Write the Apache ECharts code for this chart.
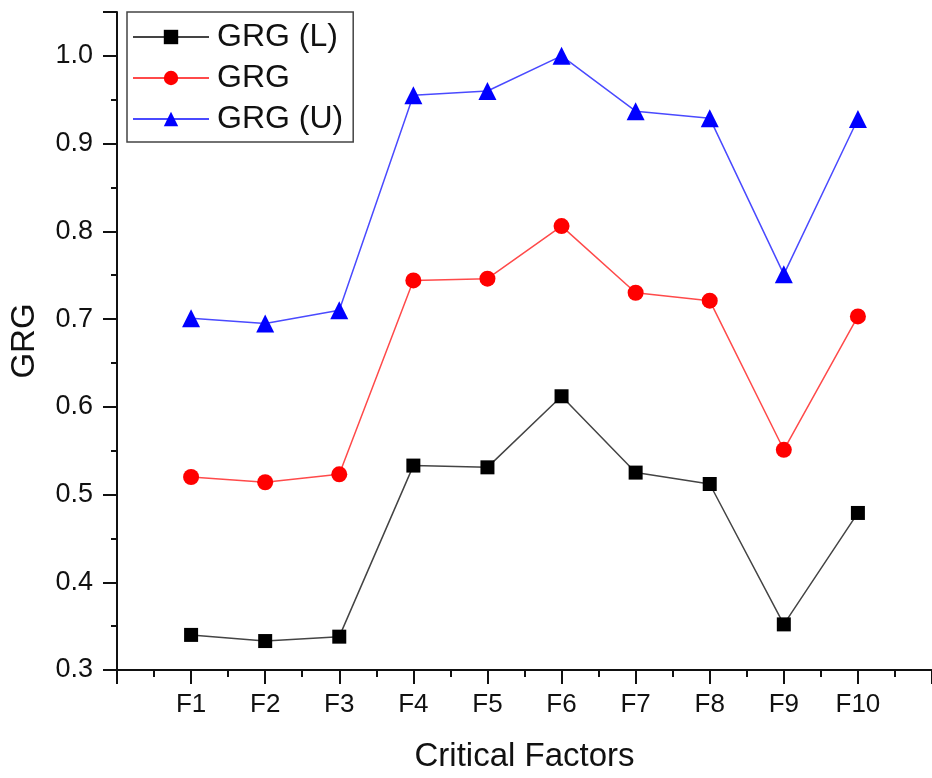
<!DOCTYPE html>
<html>
<head>
<meta charset="utf-8">
<script src="https://cdn.jsdelivr.net/npm/echarts@6/dist/echarts.min.js"></script>
<style>
  html, body { margin: 0; padding: 0; background: #fff; }
  #chart { width: 932px; height: 778px; }
</style>
</head>
<body>
<div id="chart"></div>
<script>
// critical factors on the x axis
const factors = ["F1", "F2", "F3", "F4", "F5", "F6", "F7", "F8", "F9", "F10"]

// grey relational grades
const grgLower = [0.340, 0.333, 0.338, 0.533, 0.531, 0.612, 0.525, 0.512, 0.352, 0.479]
const grgMid = [0.520, 0.514, 0.523, 0.744, 0.746, 0.806, 0.730, 0.721, 0.551, 0.703]
const grgUpper = [0.701, 0.695, 0.710, 0.955, 0.960, 1.000, 0.937, 0.929, 0.751, 0.928]

const yTicks = [0.3, 0.4, 0.5, 0.6, 0.7, 0.8, 0.9, 1.0]

const font = "Liberation Sans, Arial, sans-serif"

// x is a value axis so F1 sits one step in from the y axis, like the original
function pairs(vals) {
    return vals.map((v, i) => [i + 1, v])
}

function lineSeries(name, vals, color, lineColor, symbol, size) {
    return {
        name: name,
        type: "line",
        data: pairs(vals),
        symbol: symbol,
        symbolSize: size,
        itemStyle: { color: color },
        lineStyle: { color: lineColor, width: 1.5 },
        z: 3
    }
}

const chart = echarts.init(document.getElementById("chart"), null, { renderer: "canvas" })

chart.setOption({
    animation: false,
    backgroundColor: "#fff",
    textStyle: { fontFamily: font },
    grid: { left: 114, right: -3, top: 12, bottom: 105, containLabel: false },
    legend: {
        left: 127,
        top: 12,
        orient: "vertical",
        padding: [9, 10, 7, 5],
        itemGap: 9,
        itemWidth: 76,
        itemHeight: 18,
        borderColor: "#444",
        borderWidth: 1.5,
        textStyle: { fontFamily: font, fontSize: 32, color: "#111", padding: [0, 0, 0, 3] },
        data: ["GRG (L)", "GRG", "GRG (U)"]
    },
    xAxis: {
        type: "value",
        min: 0,
        max: 11,
        interval: 1,
        name: "Critical Factors",
        nameLocation: "middle",
        nameGap: 70,
        nameTextStyle: { fontFamily: font, fontSize: 33, color: "#111" },
        axisLine: { lineStyle: { color: "#111", width: 2 } },
        axisTick: { inside: false, length: 14, lineStyle: { color: "#111", width: 2 } },
        minorTick: { show: true, splitNumber: 2, length: 7, lineStyle: { color: "#111", width: 2 } },
        splitLine: { show: false },
        axisLabel: {
            fontFamily: font,
            fontSize: 26,
            color: "#111",
            margin: 22,
            showMinLabel: false,
            showMaxLabel: false,
            formatter: v => (v >= 1 && v <= factors.length ? factors[v - 1] : "")
        }
    },
    yAxis: {
        type: "value",
        min: 0.3,
        max: 1.05,
        interval: 0.1,
        name: "GRG",
        nameLocation: "middle",
        nameGap: 76,
        nameRotate: 90,
        nameTextStyle: { fontFamily: font, fontSize: 33, color: "#111" },
        axisLine: { show: true, lineStyle: { color: "#111", width: 2 } },
        axisTick: { show: true, inside: false, length: 14, lineStyle: { color: "#111", width: 2 } },
        minorTick: { show: true, splitNumber: 2, length: 6, lineStyle: { color: "#111", width: 2 } },
        splitLine: { show: false },
        axisLabel: {
            fontFamily: font,
            fontSize: 27,
            color: "#111",
            margin: 24,
            showMaxLabel: false,
            formatter: v => {
                let t = yTicks.find(k => Math.abs(k - v) < 1e-6)
                return t === undefined ? "" : t.toFixed(1)
            }
        }
    },
    series: [
        lineSeries("GRG (L)", grgLower, "#000", "#444", "rect", 14),
        lineSeries("GRG", grgMid, "#ff0000", "#ff4a4a", "circle", 16),
        lineSeries("GRG (U)", grgUpper, "#0000ff", "#4a4aff", "triangle", 18)
    ]
})
</script>
</body>
</html>
